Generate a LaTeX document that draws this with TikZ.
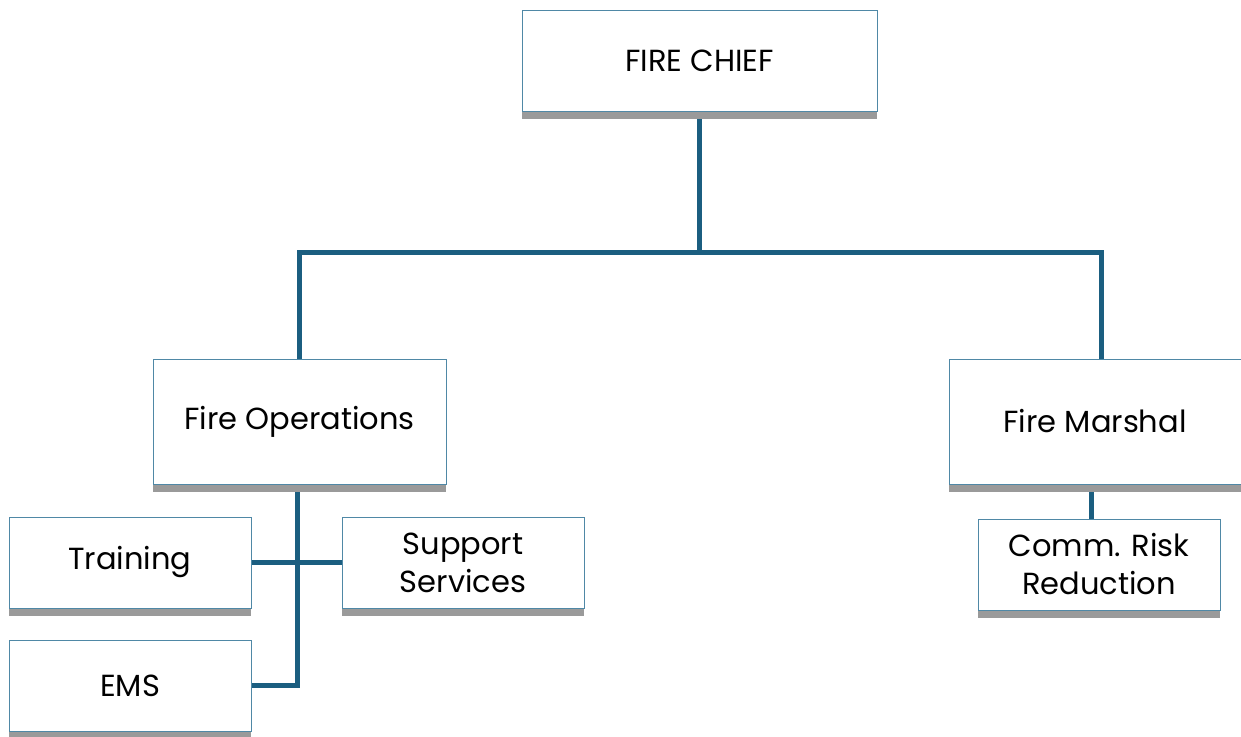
\documentclass[tikz,border=0pt]{standalone}
\usepackage{fontspec}
\setmainfont{Poppins}
\usetikzlibrary{shadows,backgrounds}
\definecolor{boxline}{HTML}{4F88A6}
\definecolor{conn}{HTML}{1B5E80}
\definecolor{shade}{HTML}{9A9A9A}
\tikzset{
  orgbox/.style={draw=boxline, line width=0.9pt, fill=white, align=center,
    inner sep=0pt, font=\fontsize{30.5}{38}\selectfont,
    drop shadow={shadow xshift=0pt, shadow yshift=-8pt, fill=shade, opacity=1}},
  link/.style={draw=conn, line width=5pt}
}
\begin{document}
\begin{tikzpicture}[x=1pt,y=-1pt]
\useasboundingbox (0,0) rectangle (1241,736);
\node[orgbox, minimum width=355pt, minimum height=101pt] (chief) at (699.5,60.5) {FIRE CHIEF};
\node[orgbox, minimum width=293pt, minimum height=125pt] (ops) at (299.5,421.5) {Fire Operations};
\node[orgbox, minimum width=292pt, minimum height=125pt] (marshal) at (1095,421.5) {Fire Marshal};
\node[orgbox, minimum width=242pt, minimum height=91pt] (training) at (130,562.5) {Training};
\node[orgbox, minimum width=242pt, minimum height=91pt] (support) at (463,562.5) {Support\\Services};
\node[orgbox, minimum width=242pt, minimum height=91pt] (ems) at (130,685.5) {EMS};
\node[orgbox, minimum width=242pt, minimum height=91pt] (crr) at (1099,564.5) {Comm. Risk\\Reduction};
\coordinate (bus) at (700,252);
\begin{pgfonlayer}{background}
\draw[link] (chief.south) -- (chief.south |- bus) -| ([xshift=-0.5pt]ops.north);
\draw[link] (chief.south |- bus) -| ([xshift=6pt]marshal.north);
\draw[link] ([xshift=-2.5pt]ops.south) |- (ems.east);
\draw[link] (training.east) -- (support.west);
\draw[link] ([xshift=-4pt]marshal.south) -- ([xshift=-4pt]marshal.south |- crr.north);
\end{pgfonlayer}
\end{tikzpicture}
\end{document}
